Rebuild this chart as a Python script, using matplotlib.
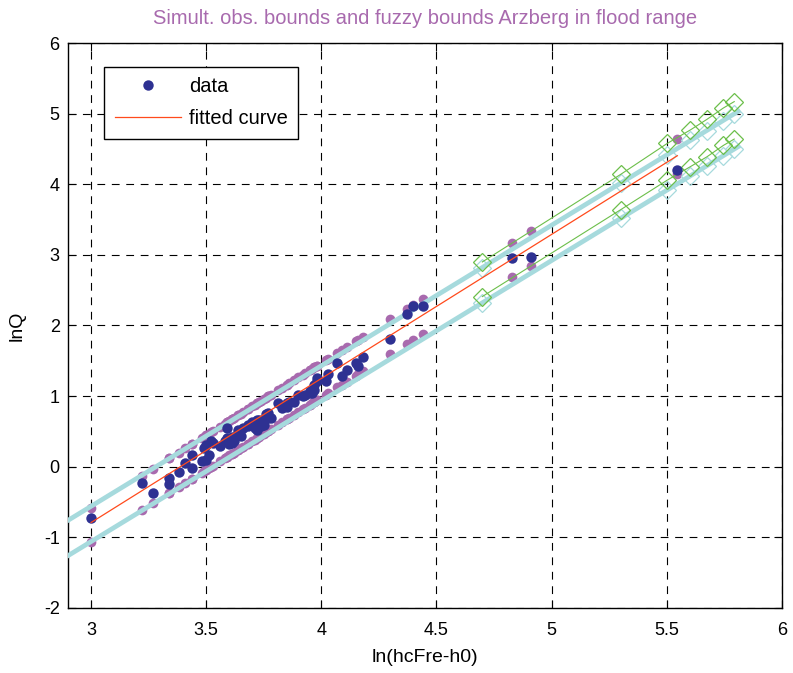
import numpy as np
import matplotlib
matplotlib.use('Agg')
from matplotlib import pyplot as plt

plt.rcParams['font.family'] = ['Liberation Sans', 'DejaVu Sans']
plt.rcParams['axes.unicode_minus'] = False

# observed points (ln(hcFre-h0), lnQ)
x_data = [3.00, 3.22, 3.27, 3.34, 3.34, 3.38, 3.41, 3.44, 3.44, 3.48,
          3.49, 3.50, 3.50, 3.51, 3.52, 3.53, 3.56, 3.58, 3.59, 3.59,
          3.60, 3.61, 3.61, 3.62, 3.64, 3.64, 3.65, 3.66, 3.68, 3.68,
          3.70, 3.71, 3.72, 3.72, 3.73, 3.74, 3.75, 3.76, 3.77, 3.77,
          3.78, 3.81, 3.83, 3.85, 3.85, 3.86, 3.88, 3.90, 3.92, 3.93,
          3.95, 3.95, 3.96, 3.97, 3.97, 3.98, 3.98, 4.02, 4.03, 4.07,
          4.09, 4.11, 4.15, 4.16, 4.18, 4.30, 4.37, 4.40, 4.44, 4.83,
          4.91, 5.546]
y_data = [-0.73, -0.23, -0.37, -0.16, -0.25, -0.07, 0.05, 0.16, -0.02, 0.08,
          0.26, 0.31, 0.10, 0.17, 0.36, 0.33, 0.29, 0.37, 0.41, 0.55,
          0.32, 0.42, 0.33, 0.36, 0.48, 0.52, 0.43, 0.55, 0.57, 0.59,
          0.64, 0.55, 0.66, 0.52, 0.66, 0.57, 0.59, 0.74, 0.76, 0.69,
          0.69, 0.90, 0.83, 0.85, 0.90, 0.92, 0.92, 1.02, 1.00, 1.02,
          1.07, 1.04, 1.04, 1.09, 1.16, 1.25, 1.21, 1.21, 1.32, 1.47,
          1.28, 1.37, 1.47, 1.43, 1.55, 1.81, 2.16, 2.28, 2.28, 2.95,
          2.97, 4.20]

# line coefficients (intercept at x=3, slope)
fit_coef = [-0.79, 2.04]
obs_upper_coef = [-0.58, 2.05]
obs_lower_coef = [-1.07, 2.05]
fuzzy_upper_coef = [-0.56, 1.99]
fuzzy_lower_coef = [-1.06, 1.99]
fuzzy_x = [2.90, 5.81]

# extrapolated bounds
x_ext = [4.699, 5.30, 5.503, 5.603, 5.675, 5.746, 5.793]
green_upper = [2.90, 4.14, 4.58, 4.77, 4.92, 5.08, 5.17]
green_lower = [2.41, 3.64, 4.06, 4.25, 4.39, 4.55, 4.64]
cyan_upper = [2.82, 4.02, 4.42, 4.62, 4.76, 4.90, 5.00]
cyan_lower = [2.32, 3.52, 3.92, 4.12, 4.26, 4.40, 4.50]

x = np.array(x_data)
y = np.array(y_data)


def line(coef, xs):
    xs = np.asarray(xs)
    return coef[0] + coef[1] * (xs - 3.0)


blue = '#2e3192'
pink = '#a86aae'
cyan = '#a6dadd'
green = '#6cbf4a'
red = '#ff4a1c'

fig = plt.figure(figsize=(7.93, 6.73), dpi=100)
ax = fig.add_axes([0.0858, 0.0966, 0.9002, 0.8395])

ax.plot(x, line(obs_upper_coef, x), 'o', color=pink, ms=7, mec='none', zorder=2)
ax.plot(x, line(obs_lower_coef, x), 'o', color=pink, ms=7, mec='none', zorder=2)
for coef in (fuzzy_upper_coef, fuzzy_lower_coef):
    ax.plot(fuzzy_x, line(coef, fuzzy_x), '-', color=cyan, lw=3.4, zorder=3)
ax.plot(x_ext, cyan_upper, 'D', color=cyan, mfc='none', ms=9, mew=0.9, zorder=3)
ax.plot(x_ext, cyan_lower, 'D', color=cyan, mfc='none', ms=9, mew=0.9, zorder=3)
ax.plot(x_ext, green_upper, 'D-', color=green, mfc='none', ms=9, mew=0.9, lw=0.8, zorder=4)
ax.plot(x_ext, green_lower, 'D-', color=green, mfc='none', ms=9, mew=0.9, lw=0.8, zorder=4)

ax.plot(x, y, 'o', color=blue, ms=7.5, mec='none', label='data', zorder=5)
xf = np.array([x.min(), x.max()])
ax.plot(xf, line(fit_coef, xf), '-', color=red, lw=0.9, label='fitted curve', zorder=6)

ax.set_xlim(2.9, 6)
ax.set_ylim(-2, 6)
ax.set_xticks([3, 3.5, 4, 4.5, 5, 5.5, 6])
ax.set_xticklabels(['3', '3.5', '4', '4.5', '5', '5.5', '6'])
ax.set_yticks(range(-2, 7))
ax.tick_params(direction='in', top=True, right=True, length=6, labelsize=13, pad=6)
ax.tick_params(axis='x', pad=10)
ax.grid(True, color='black', linestyle=(0, (7, 6)), linewidth=0.8)
for sp in ax.spines.values():
    sp.set_linewidth(1.0)

ax.set_xlabel('ln(hcFre-h0)', fontsize=14, labelpad=7)
ax.set_ylabel('lnQ', fontsize=14, labelpad=13)
ax.set_title('Simult. obs. bounds and fuzzy bounds Arzberg in flood range',
             fontsize=14.5, color=pink, pad=14)

leg = ax.legend(loc='upper left', bbox_to_anchor=(0.051, 0.957), fontsize=14.5,
                fancybox=False, framealpha=1, edgecolor='black',
                handlelength=3.3, handletextpad=0.4, borderpad=0.5,
                labelspacing=0.65, borderaxespad=0)
leg.get_frame().set_linewidth(1.0)

fig.savefig('out.png', dpi=100)
